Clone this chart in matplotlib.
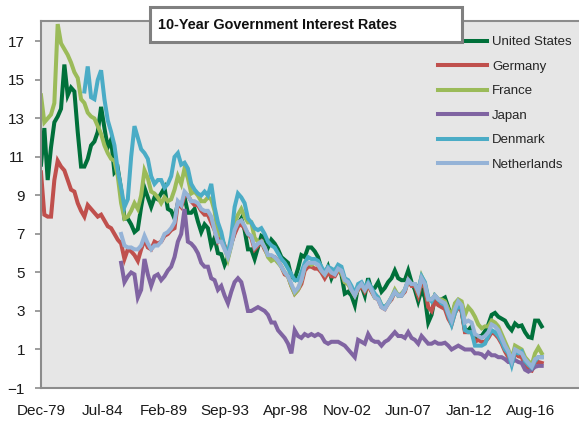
import matplotlib
matplotlib.use("Agg")
import matplotlib.pyplot as plt
from matplotlib.patches import Rectangle
from matplotlib import font_manager
import numpy as np

# ---------------- data (quarterly readings, % ) ----------------
STEP = 3  # months between readings
# first reading, in months after Dec-1979
us_start, de_start, fr_start, jp_start, dk_start, nl_start = 0, 0, 0, 72, 39, 72

united_states = [
    10.6, 12.5, 9.8, 11.5, 12.8, 13.1, 13.5, 15.8, 14.2, 14.6, 14.4, 12.3,
    10.5, 10.5, 10.9, 11.6, 11.8, 12.3, 13.6, 12.5, 11.5, 11.9, 10.2, 10.4,
    9.3, 7.8, 7.8, 7.5, 7.1, 7.25, 8.4, 9.4, 8.9, 8.4, 8.9, 8.8,
    9.1, 9.4, 8.3, 8.2, 7.8, 8.6, 8.5, 8.9, 8.1, 8.1, 8.3, 7.65,
    7.1, 7.5, 7.3, 6.4, 6.8, 6.0, 5.95, 5.4, 5.8, 6.5, 7.1, 7.5,
    7.8, 7.2, 6.2, 6.2, 5.7, 6.3, 6.9, 6.8, 6.3, 6.7, 6.5, 6.2,
    5.8, 5.65, 5.5, 4.8, 4.65, 5.2, 5.9, 5.8, 6.3, 6.3, 6.1, 5.8,
    5.2, 4.9, 5.3, 4.7, 5.1, 5.3, 4.9, 3.9, 4.0, 3.8, 3.3, 4.3,
    4.3, 3.8, 4.7, 4.1, 4.2, 4.5, 4.0, 4.2, 4.5, 4.7, 5.1, 4.7,
    4.6, 4.6, 5.1, 4.5, 4.1, 3.5, 4.1, 3.7, 2.4, 2.8, 3.7, 3.4,
    3.6, 3.7, 3.2, 2.65, 3.3, 3.4, 3.0, 2.0, 2.0, 2.2, 1.6, 1.7,
    1.7, 1.95, 2.3, 2.8, 2.9, 2.7, 2.6, 2.5, 2.2, 2.0, 2.35, 2.2,
    2.25, 1.9, 1.65, 1.6, 2.5, 2.5, 2.2,
]
germany = [
    10.2, 8.0, 7.9, 7.9, 9.8, 10.8, 10.5, 10.3, 9.8, 9.3, 9.2, 8.6,
    8.2, 7.9, 8.5, 8.3, 8.1, 7.9, 8.0, 7.7, 7.4, 7.3, 7.0, 6.7,
    6.5, 5.7, 6.2, 6.1, 5.9, 5.6, 6.2, 6.7, 6.3, 6.2, 6.6, 6.5,
    6.6, 6.9, 7.0, 7.2, 7.3, 8.6, 8.4, 9.0, 9.0, 8.7, 8.5, 8.5,
    8.2, 8.0, 8.0, 7.6, 7.2, 6.6, 6.8, 6.4, 5.9, 6.5, 7.0, 7.4,
    7.5, 7.3, 7.0, 6.8, 6.2, 6.4, 6.6, 6.2, 5.9, 5.8, 5.8, 5.6,
    5.3, 4.9, 4.8, 4.3, 3.9, 4.1, 4.4, 5.1, 5.3, 5.3, 5.2, 5.2,
    5.0, 4.7, 5.0, 4.8, 4.8, 5.1, 5.0, 4.5, 4.4, 4.1, 3.8, 4.1,
    4.3, 4.0, 4.3, 4.0, 3.7, 3.6, 3.2, 3.1, 3.4, 3.6, 4.0, 3.8,
    3.8, 4.0, 4.6, 4.3, 4.3, 3.8, 4.5, 4.2, 3.2, 3.0, 3.5, 3.3,
    3.2, 3.1, 2.6, 2.3, 2.9, 3.2, 3.0, 1.9, 1.9, 1.9, 1.4, 1.5,
    1.4, 1.4, 1.6, 1.9, 1.8, 1.6, 1.3, 0.9, 0.6, 0.25, 0.8, 0.65,
    0.6, 0.2, -0.05, -0.1, 0.3, 0.35, 0.3,
]
france = [
    14.2, 12.8, 13.0, 13.2, 13.8, 17.9, 16.9, 16.6, 16.3, 15.9, 15.4, 15.1,
    14.0, 13.8, 13.3, 13.1, 13.0, 12.6, 12.2, 11.6, 11.2, 10.9, 10.8, 10.0,
    8.6, 7.8, 7.9, 8.2, 8.6, 8.3, 9.0, 10.3, 9.9, 9.2, 9.1, 8.9,
    8.6, 8.9, 8.7, 8.8, 9.3, 10.0, 9.6, 10.4, 9.9, 9.1, 9.2, 9.0,
    8.7, 8.7, 8.9, 8.8, 8.2, 7.0, 6.9, 6.3, 5.7, 6.4, 7.6, 8.0,
    8.3, 7.9, 7.6, 7.6, 6.8, 6.6, 6.6, 6.3, 5.8, 5.6, 5.7, 5.5,
    5.3, 5.0, 4.8, 4.3, 3.9, 4.1, 4.6, 5.3, 5.5, 5.4, 5.5, 5.4,
    5.1, 4.9, 5.2, 5.0, 5.0, 5.2, 5.0, 4.5, 4.4, 4.1, 3.8, 4.2,
    4.4, 4.1, 4.4, 4.1, 3.7, 3.7, 3.3, 3.2, 3.4, 3.7, 4.1, 3.8,
    3.9, 4.1, 4.6, 4.4, 4.4, 4.0, 4.8, 4.4, 3.6, 3.6, 3.8, 3.6,
    3.6, 3.5, 3.1, 2.7, 3.4, 3.6, 3.5, 2.8, 3.2, 3.0, 2.7, 2.3,
    2.1, 2.2, 2.2, 2.5, 2.4, 2.2, 1.8, 1.4, 1.0, 0.5, 1.2, 1.1,
    1.0, 0.6, 0.4, 0.2, 0.8, 1.1, 0.8,
]
japan = [
    5.5, 4.5, 4.8, 5.0, 4.9, 3.7, 4.1, 5.7, 4.9, 4.3, 4.8, 4.9,
    4.6, 4.8, 5.1, 5.3, 5.8, 6.6, 7.0, 8.3, 6.6, 6.5, 6.3, 6.0,
    5.5, 5.3, 5.3, 4.7, 4.6, 4.1, 4.3, 3.8, 3.4, 4.0, 4.5, 4.7,
    4.5, 3.8, 3.0, 3.0, 3.1, 3.2, 3.1, 3.0, 2.8, 2.4, 2.4, 2.0,
    1.8, 1.6, 1.3, 0.8, 2.0, 1.7, 1.6, 1.8, 1.7, 1.8, 1.7, 1.8,
    1.7, 1.4, 1.3, 1.4, 1.4, 1.4, 1.3, 1.2, 1.0, 0.8, 0.6, 1.5,
    1.4, 1.3, 1.8, 1.5, 1.4, 1.4, 1.2, 1.4, 1.5, 1.7, 1.9, 1.7,
    1.7, 1.6, 1.9, 1.6, 1.5, 1.3, 1.7, 1.5, 1.3, 1.3, 1.4, 1.3,
    1.3, 1.35, 1.2, 1.0, 1.1, 1.2, 1.1, 1.0, 1.0, 1.0, 0.8, 0.8,
    0.75, 0.6, 0.85, 0.7, 0.7, 0.6, 0.6, 0.5, 0.35, 0.35, 0.45, 0.35,
    0.3, -0.05, -0.15, -0.05, 0.1, 0.15, 0.15,
]
denmark = [
    14.4, 15.7, 14.1, 14.0, 15.0, 15.5, 14.0, 12.9, 12.3, 11.6, 10.3, 9.4,
    8.4, 8.8, 11.0, 12.6, 12.0, 11.4, 11.2, 10.9, 10.0, 9.6, 9.8, 9.8,
    9.4, 9.6, 10.0, 11.0, 11.2, 10.6, 10.7, 10.4, 9.6, 9.3, 9.1, 9.0,
    9.2, 9.0, 9.6, 8.4, 7.6, 7.1, 6.3, 6.0, 6.9, 8.4, 9.1, 8.9,
    8.6, 7.8, 7.6, 7.3, 7.2, 7.3, 7.0, 6.6, 6.4, 6.3, 6.0, 5.7,
    5.5, 5.2, 4.9, 4.6, 4.6, 5.0, 5.5, 5.8, 5.7, 5.7, 5.6, 5.3,
    5.0, 5.3, 5.2, 5.1, 5.4, 5.3, 4.7, 4.6, 4.3, 3.9, 4.4, 4.5,
    4.2, 4.5, 4.2, 3.9, 3.7, 3.3, 3.2, 3.4, 3.7, 4.0, 3.8, 3.8,
    4.1, 4.6, 4.4, 4.4, 4.1, 4.8, 4.5, 3.7, 3.5, 3.8, 3.6, 3.4,
    3.3, 2.8, 2.3, 2.9, 3.3, 3.1, 2.0, 1.9, 1.9, 1.2, 1.2, 1.2,
    1.3, 1.7, 2.0, 1.9, 1.7, 1.4, 1.0, 0.8, 0.2, 0.9, 0.8, 0.9,
    0.4, 0.2, 0.05, 0.4, 0.6, 0.6,
]
netherlands = [
    7.0, 6.4, 6.3, 6.3, 6.2, 6.2, 6.4, 6.9, 6.5, 6.2, 6.4, 6.4,
    6.6, 7.0, 7.1, 7.3, 7.6, 8.7, 8.5, 9.2, 9.0, 8.7, 8.7, 8.6,
    8.3, 8.2, 8.2, 7.9, 7.2, 6.6, 6.6, 6.2, 5.8, 6.4, 7.2, 7.6,
    7.7, 7.4, 7.0, 6.9, 6.3, 6.5, 6.6, 6.3, 5.9, 5.9, 5.8, 5.6,
    5.3, 5.0, 4.8, 4.4, 4.0, 4.2, 4.6, 5.3, 5.5, 5.5, 5.5, 5.4,
    5.1, 4.9, 5.2, 5.0, 4.9, 5.2, 5.1, 4.6, 4.5, 4.1, 3.8, 4.2,
    4.4, 4.1, 4.4, 4.1, 3.7, 3.6, 3.2, 3.1, 3.4, 3.7, 4.0, 3.8,
    3.8, 4.1, 4.6, 4.4, 4.4, 4.0, 4.7, 4.4, 3.6, 3.6, 3.8, 3.6,
    3.5, 3.4, 2.9, 2.5, 3.1, 3.5, 3.3, 2.4, 2.5, 2.4, 1.8, 1.7,
    1.6, 1.7, 1.9, 2.3, 2.2, 2.0, 1.6, 1.2, 0.9, 0.4, 1.0, 0.9,
    0.8, 0.5, 0.3, 0.1, 0.5, 0.6, 0.6,
]

series_names = ["United States", "Germany", "France", "Japan", "Denmark", "Netherlands"]
series_values = [united_states, germany, france, japan, denmark, netherlands]
series_starts = [us_start, de_start, fr_start, jp_start, dk_start, nl_start]

tick_labels = ["Dec-79", "Jul-84", "Feb-89", "Sep-93", "Apr-98",
               "Nov-02", "Jun-07", "Jan-12", "Aug-16"]
tick_months = [0, 55, 110, 165, 220, 275, 330, 385, 440]
y_ticks = [-1, 1, 3, 5, 7, 9, 11, 13, 15, 17]
title = "10-Year Government Interest Rates"

# ---------------- style ----------------
colors = ["#00703a", "#c0504d", "#9bbb59", "#8064a2", "#4bacc6", "#95b3d7"]
W, H = 579, 421


def has_font(name):
    try:
        font_manager.findfont(font_manager.FontProperties(family=name),
                              fallback_to_default=False)
        return True
    except Exception:
        return False


plt.rcParams["font.family"] = ["Liberation Sans", "DejaVu Sans"]
narrow = has_font("Liberation Sans Narrow")

fig = plt.figure(figsize=(W / 100, H / 100), dpi=100)
ax = fig.add_axes([41 / W, 33 / H, (W - 41) / W, (388 - 21) / H])
ax.set_facecolor("#e6e6e6")

for name, start, vals, col in zip(series_names, series_starts, series_values, colors):
    x = start + STEP * np.arange(len(vals))
    ax.plot(x, vals, color=col, lw=2.9, label=name, solid_joinstyle="miter")

ax.set_xlim(0, 483.5)
ax.set_ylim(-1, 18.06)
ax.set_xticks(tick_months)
ax.set_xticklabels(tick_labels)
ax.set_yticks(y_ticks)
ax.tick_params(axis="x", length=0, pad=11.5, labelsize=11, labelcolor="#1a1a1a")
ax.tick_params(axis="y", length=4, width=1.2, color="#8c8c8c", pad=7.5,
               labelsize=11, labelcolor="#1a1a1a", direction="out")
for side in ["left", "bottom", "top"]:
    ax.spines[side].set_color("#8c8c8c")
    ax.spines[side].set_linewidth(1.5)
ax.spines["right"].set_visible(False)

leg = ax.legend(loc="upper left", bbox_to_anchor=(438 / W, 1 - 36 / H),
                bbox_transform=fig.transFigure, frameon=False, fontsize=9.5,
                handlelength=3.7, handletextpad=0.4, labelspacing=0.93,
                borderpad=0, borderaxespad=0)
for t in leg.get_texts():
    t.set_color("#262626")

# title box
fig.add_artist(Rectangle((150 / W, 1 - 42 / H), 312 / W, 35 / H,
                         transform=fig.transFigure, facecolor="white",
                         edgecolor="#808080", lw=2.2, zorder=5))
if narrow:
    fig.text(158 / W, 1 - 25 / H, title, family=["Liberation Sans Narrow", "Liberation Sans"],
             weight="bold", fontsize=12.3, va="center", ha="left", color="#111111", zorder=6)
else:
    fig.text(158 / W, 1 - 25 / H, title, weight="bold", fontsize=10.4,
             va="center", ha="left", color="#111111", zorder=6)

fig.savefig("out.png", dpi=100)
